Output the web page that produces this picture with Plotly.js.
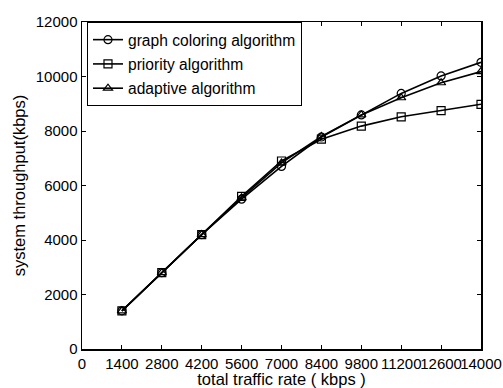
<!DOCTYPE html>
<html>
<head>
<meta charset="utf-8">
<script src="https://cdn.plot.ly/plotly-3.0.1.min.js"></script>
<style>html,body{margin:0;padding:0;background:#fff}#chart{width:503px;height:388px}</style>
</head>
<body>
<div id="chart"></div>
<script>
const traffic = [1400, 2800, 4200, 5600, 7000, 8400, 9800, 11200, 12600, 14000];
const graphColoring = [1400, 2800, 4200, 5500, 6700, 7780, 8590, 9380, 10020, 10520];
const priority = [1400, 2800, 4200, 5600, 6900, 7700, 8180, 8520, 8750, 8980];
const adaptive = [1400, 2800, 4200, 5550, 6830, 7800, 8590, 9220, 9770, 10180];
const seriesNames = ["graph coloring algorithm", "priority algorithm", "adaptive algorithm"];
const xTicks = [0, 1400, 2800, 4200, 5600, 7000, 8400, 9800, 11200, 12600, 14000];
const yTicks = [0, 2000, 4000, 6000, 8000, 10000, 12000];

const fontFam = '"Liberation Sans", Arial, sans-serif';
function mk(y, name, sym, g) {
  return {
    x: traffic, y: y, name: name, type: 'scatter', mode: 'lines+markers', legendgroup: g,
    line: {color: '#000', width: 1.6},
    marker: {symbol: sym, size: 8, color: '#000', line: {color: '#000', width: 1.2}}
  };
}
const data = [
  mk(graphColoring, seriesNames[0], 'circle-open', 'a'),
  mk(priority, seriesNames[1], 'square-open', 'b'),
  mk(adaptive, seriesNames[2], 'triangle-up-open', 'c')
];
const axisCommon = {
  showgrid: false, zeroline: false, showline: true, linecolor: '#000', linewidth: 1.5,
  mirror: 'ticks', ticks: 'inside', ticklen: 4, tickcolor: '#000', tickwidth: 1,
  tickfont: {family: fontFam, size: 15, color: '#000'}
};
const layout = {
  width: 503, height: 388,
  margin: {l: 82, r: 22, t: 22, b: 39},
  paper_bgcolor: '#fff', plot_bgcolor: '#fff',
  showlegend: true,
  legend: {
    x: 0.0125, y: 1.0, xanchor: 'left', yanchor: 'top',
    bordercolor: '#000', borderwidth: 1, bgcolor: '#fff',
    font: {family: fontFam, size: 15.6, color: '#000'},
    itemwidth: 30, traceorder: 'grouped', tracegroupgap: 1
  },
  xaxis: Object.assign({}, axisCommon, {
    range: [0, 14000], tickvals: xTicks, ticktext: xTicks.map(String), tickangle: 0,
    title: {text: 'total traffic rate ( kbps )', font: {family: fontFam, size: 16.5, color: '#000'}, standoff: 1}
  }),
  yaxis: Object.assign({}, axisCommon, {
    range: [0, 12000], tickvals: yTicks, ticktext: yTicks.map(String),
    title: {text: 'system throughput(kbps)', font: {family: fontFam, size: 16.5, color: '#000'}, standoff: 6}
  })
};
Plotly.newPlot('chart', data, layout, {displayModeBar: false, staticPlot: true});
</script>
</body>
</html>
